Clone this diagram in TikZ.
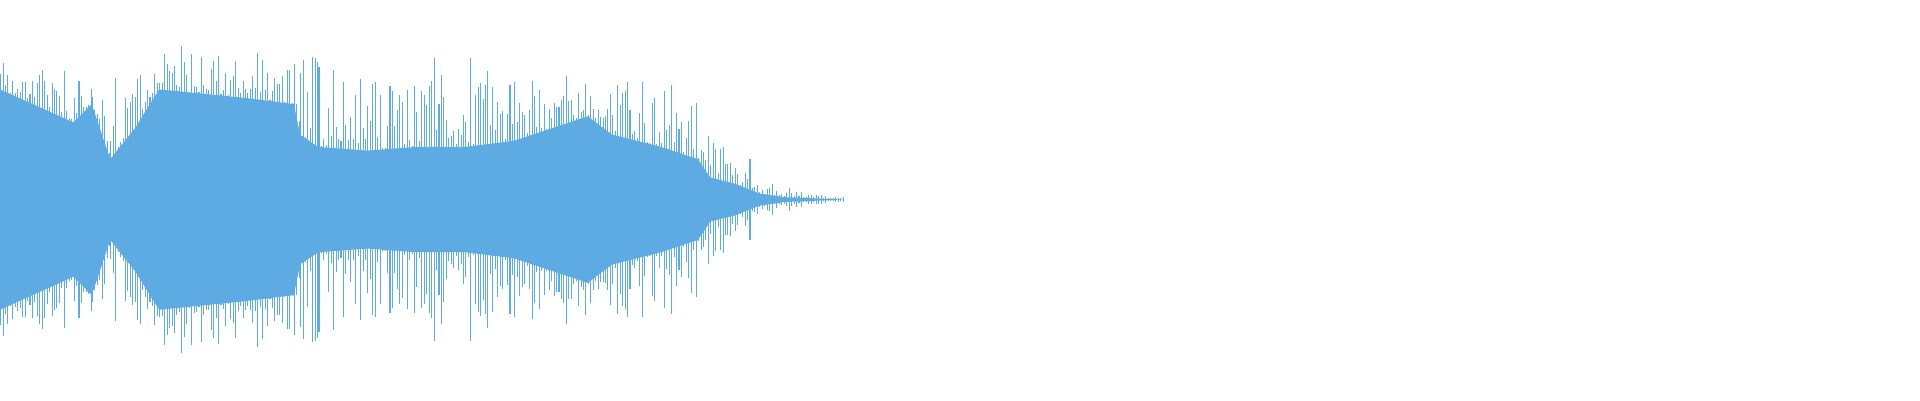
\documentclass[tikz,border=0pt]{standalone}
\definecolor{wavec}{HTML}{5DABE2}
\begin{document}
\begin{tikzpicture}[x=0.012245cm,y=0.012245cm,wave/.style={draw=wavec,line width=0.3pt}]
\useasboundingbox (0,0) rectangle (1568,327);
\pgfmathsetseed{11}
\def\cy{164}
\fill[wavec] (0,\cy+90) -- (60,\cy+63) -- (75,\cy+78) -- (90,\cy+33) -- (110,\cy+58) -- (130,\cy+90) -- (200,\cy+83) -- (240,\cy+78) -- (245,\cy+53) -- (260,\cy+43) -- (300,\cy+40) -- (340,\cy+43) -- (380,\cy+43) -- (420,\cy+48) -- (450,\cy+58) -- (480,\cy+68) -- (500,\cy+53) -- (540,\cy+43) -- (570,\cy+33) -- (580,\cy+18) -- (600,\cy+13) -- (620,\cy+5) -- (640,\cy+2) -- (690,\cy)
 -- (640,\cy-2) -- (620,\cy-5) -- (600,\cy-13) -- (580,\cy-18) -- (570,\cy-33) -- (540,\cy-43) -- (500,\cy-53) -- (480,\cy-68) -- (450,\cy-58) -- (420,\cy-48) -- (380,\cy-43) -- (340,\cy-43) -- (300,\cy-40) -- (260,\cy-43) -- (245,\cy-53) -- (240,\cy-78) -- (200,\cy-83) -- (130,\cy-90) -- (110,\cy-58) -- (90,\cy-33) -- (75,\cy-78) -- (60,\cy-63) -- (0,\cy-90) -- cycle;
\foreach \xa/\ba/\sa/\xb/\bb/\sb in {0/90/113/60/63/108, 60/63/108/75/78/108, 75/78/108/90/33/113, 90/33/113/110/58/113, 110/58/113/130/90/133, 130/90/133/200/83/123, 200/83/123/240/78/118, 240/78/118/245/53/118, 245/53/118/260/43/118, 260/43/118/300/40/118, 300/40/118/340/43/118, 340/43/118/380/43/118, 380/43/118/420/48/98, 420/48/98/450/58/108, 450/58/108/480/68/103, 480/68/103/500/53/103, 500/53/103/540/43/98, 540/43/98/570/33/88, 570/33/88/580/18/68, 580/18/68/600/13/48, 600/13/48/620/5/23, 620/5/23/640/2/10, 640/2/10/690/0/1}{
  \pgfmathtruncatemacro\xn{\xa+2}
  \pgfmathtruncatemacro\xe{\xb-1}
  \foreach \x in {\xa,\xn,...,\xe}{
    \pgfmathsetmacro\t{(\x-\xa)/(\xb-\xa)}
    \pgfmathsetmacro\b{\ba+\t*(\bb-\ba)}
    \pgfmathsetmacro\s{\sa+\t*(\sb-\sa)}
    \pgfmathsetmacro\r{rnd}
    \pgfmathsetmacro\h{\b+\r*(0.35+0.65*\r)*(\s-\b)+0.5}
    \draw[wave] (\x+0.5,\cy-\h) -- (\x+0.5,\cy+\h);
  }
}
\end{tikzpicture}
\end{document}
